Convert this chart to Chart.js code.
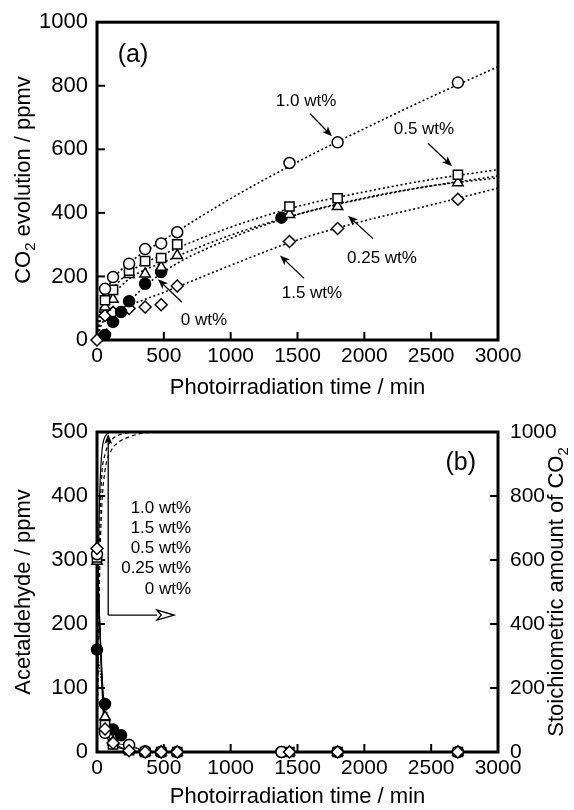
<!DOCTYPE html>
<html>
<head>
<meta charset="utf-8">
<script src="https://cdn.jsdelivr.net/npm/chart.js@4.4.1/dist/chart.umd.min.js"></script>
<style>
  body { margin: 0; background: #fff; }
  #wrap { position: relative; width: 574px; height: 810px; }
  canvas { position: absolute; left: 0; }
  #chartA { top: 0; }
  #chartB { top: 400px; }
</style>
</head>
<body>
<div id="wrap">
  <canvas id="chartA" width="574" height="400" style="width:574px;height:400px"></canvas>
  <canvas id="chartB" width="574" height="410" style="width:574px;height:410px"></canvas>
</div>
<script>
var FONT = "'Liberation Sans', Arial, sans-serif";

// ---- (a) CO2 evolution / ppmv ----
var timeA10 = [60, 120, 240, 360, 480, 600, 1440, 1800, 2700];
var co2_10 = [161, 198, 240, 286, 304, 339, 557, 622, 810];
var timeA05 = [60, 120, 240, 360, 480, 600, 1440, 1800, 2700];
var co2_05 = [125, 158, 218, 248, 258, 301, 420, 446, 520];
var timeA025 = [60, 120, 240, 360, 480, 600, 1440, 1800, 2700];
var co2_025 = [104, 128, 206, 208, 229, 266, 395, 420, 495];
var timeA0 = [60, 120, 180, 240, 360, 480, 1380];
var co2_0 = [16, 57, 88, 122, 177, 214, 385];
var timeA15 = [0, 60, 120, 240, 360, 480, 600, 1440, 1800, 2700];
var co2_15 = [0, 77, 87, 99, 104, 111, 170, 310, 351, 443];

// dotted fit curves
var fitTime = [0, 30, 100, 250, 500, 1000, 1500, 2000, 2500, 3000];
var fit10 = [0, 115, 180, 245, 315, 445, 560, 665, 765, 860];
var fit05 = [0, 90, 150, 215, 270, 355, 420, 466, 505, 536];
var fit025 = [0, 75, 130, 195, 245, 330, 395, 445, 485, 516];
var fit0 = [0, 10, 50, 125, 215, 320, 395, 447, 485, 510];
var fit15 = [0, 45, 80, 110, 150, 235, 315, 375, 425, 478];

// ---- (b) Acetaldehyde / ppmv ----
var timeB10 = [0, 60, 240, 360, 480, 600, 1380, 1800, 2700];
var acet10 = [309, 30, 11, 1, 0, 0, 0, 0, 0];
var timeB15 = [0, 60, 120, 240, 360, 480, 600, 1440, 1800, 2700];
var acet15 = [318, 36, 14, 2, 0, 0, 0, 0, 0, 0];
var timeB05 = [0, 60, 120, 240, 360, 480, 600, 1440, 1800, 2700];
var acet05 = [304, 42, 12, 3, 0, 0, 0, 0, 0, 0];
var timeB025 = [0, 60, 120, 240, 360, 480, 600, 1440, 1800, 2700];
var acet025 = [298, 55, 16, 3, 0, 0, 0, 0, 0, 0];
var timeB0 = [0, 60, 120, 180, 360, 480, 1380];
var acet0 = [160, 75, 35, 26, 0, 0, 0];

// stoichiometric CO2 curves (right axis)
var stoichTime = [0, 10, 20, 35, 60, 110, 160, 250, 350, 500, 3000];
var stoichFast = [0, 560, 800, 930, 985, 1000, 1000, 1000, 1000, 1000, 1000];
var stoichMid = [0, 420, 700, 860, 930, 975, 990, 998, 1000, 1000, 1000];
var stoichSlow = [0, 300, 560, 760, 880, 945, 968, 986, 997, 1000, 1000];

function pts(xs, ys) {
  return xs.map(function (x, i) { return { x: x, y: ys[i] }; });
}

function marks(xs, ys, style, filled, axis) {
  return {
    data: pts(xs, ys),
    yAxisID: axis || 'y',
    showLine: false,
    pointStyle: style,
    pointRadius: style === 'rect' ? 6.5 : (style === 'circle' ? 5.5 : 6),
    pointBackgroundColor: filled ? '#000' : '#fff',
    pointBorderColor: '#000',
    pointBorderWidth: 1.5,
    clip: false,
    order: 0
  };
}

function curve(xs, ys, dash, width, axis) {
  return {
    data: pts(xs, ys),
    yAxisID: axis || 'y',
    showLine: true,
    pointRadius: 0,
    borderColor: '#000',
    borderWidth: width,
    borderDash: dash,
    cubicInterpolationMode: 'monotone',
    fill: false,
    order: 1
  };
}

function axis(min, max, step, size, pad, fit) {
  return {
    type: 'linear', min: min, max: max,
    grid: { display: false, drawTicks: false },
    border: { display: false },
    ticks: { stepSize: step, autoSkip: false, maxRotation: 0, padding: pad,
             color: '#000', font: { family: FONT, size: size },
             callback: function (v) { return String(v); } },
    afterFit: fit
  };
}

// text with an optional subscript part: parts = [[text, isSub], ...]
function drawParts(ctx, parts, x, y, rot, size) {
  ctx.save();
  ctx.translate(x, y);
  ctx.rotate(rot);
  ctx.textBaseline = 'middle';
  ctx.textAlign = 'left';
  var w = 0;
  parts.forEach(function (p) {
    ctx.font = (p[1] ? size * 0.68 : size) + 'px ' + FONT;
    w += ctx.measureText(p[0]).width;
  });
  var cx = -w / 2;
  parts.forEach(function (p) {
    ctx.font = (p[1] ? size * 0.68 : size) + 'px ' + FONT;
    ctx.fillText(p[0], cx, p[1] ? size * 0.3 : 0);
    cx += ctx.measureText(p[0]).width;
  });
  ctx.restore();
}

function arrow(ctx, x1, y1, x2, y2, open) {
  var ang = Math.atan2(y2 - y1, x2 - x1);
  var len = open ? 17 : 10, hw = open ? 5 : 4;
  ctx.beginPath();
  ctx.moveTo(x1, y1);
  ctx.lineTo(x2 - Math.cos(ang) * (open ? len : len * 0.6), y2 - Math.sin(ang) * (open ? len : len * 0.6));
  ctx.stroke();
  ctx.beginPath();
  ctx.moveTo(x2, y2);
  ctx.lineTo(x2 - Math.cos(ang) * len - Math.sin(ang) * hw, y2 - Math.sin(ang) * len + Math.cos(ang) * hw);
  ctx.lineTo(x2 - Math.cos(ang) * len * 0.75, y2 - Math.sin(ang) * len * 0.75);
  ctx.lineTo(x2 - Math.cos(ang) * len + Math.sin(ang) * hw, y2 - Math.sin(ang) * len - Math.cos(ang) * hw);
  ctx.closePath();
  if (open) { ctx.fillStyle = '#fff'; ctx.fill(); ctx.stroke(); }
  else { ctx.fillStyle = '#000'; ctx.fill(); }
}

var framePlugin = {
  id: 'frame',
  beforeDatasetsDraw: function (chart, args, opts) {
    var a = chart.chartArea, ctx = chart.ctx;
    ctx.save();
    ctx.strokeStyle = '#000';
    ctx.lineWidth = 2;
    opts.inward.forEach(function (t) {
      var s = chart.scales[t[0]];
      s.ticks.forEach(function (tk) {
        if (tk.value <= s.min || tk.value >= s.max) return;
        var p = s.getPixelForValue(tk.value);
        ctx.beginPath();
        if (t[1] === 'bottom') { ctx.moveTo(p, a.bottom); ctx.lineTo(p, a.bottom - 8); }
        if (t[1] === 'left') { ctx.moveTo(a.left, p); ctx.lineTo(a.left + 8, p); }
        if (t[1] === 'right') { ctx.moveTo(a.right, p); ctx.lineTo(a.right - 8, p); }
        ctx.stroke();
      });
    });
    ctx.lineWidth = 3;
    ctx.strokeRect(a.left, a.top, a.right - a.left, a.bottom - a.top);
    ctx.restore();
  },
  afterDraw: function (chart, args, opts) {
    var ctx = chart.ctx;
    var sx = chart.scales.x, sy = chart.scales.y;
    ctx.save();
    ctx.fillStyle = '#000';
    ctx.strokeStyle = '#000';
    opts.titles.forEach(function (t) {
      drawParts(ctx, t.parts, t.x, t.y, t.rot || 0, 22);
    });
    opts.notes.forEach(function (n) {
      ctx.font = (n.size || 17) + 'px ' + FONT;
      ctx.textAlign = n.align || 'center';
      ctx.textBaseline = 'middle';
      ctx.fillText(n.text, sx.getPixelForValue(n.x), sy.getPixelForValue(n.y));
    });
    ctx.lineWidth = 1.3;
    opts.arrows.forEach(function (r) {
      arrow(ctx, sx.getPixelForValue(r[0]), sy.getPixelForValue(r[1]),
            sx.getPixelForValue(r[2]), sy.getPixelForValue(r[3]), r[4]);
    });
    ctx.restore();
  }
};

var noUi = { legend: { display: false }, tooltip: { enabled: false } };

// ---------- panel (a) ----------
new Chart(document.getElementById('chartA'), {
  type: 'scatter',
  data: {
    datasets: [
      marks(timeA10, co2_10, 'circle', false),
      marks(timeA05, co2_05, 'rect', false),
      marks(timeA025, co2_025, 'triangle', false),
      marks(timeA0, co2_0, 'circle', true),
      marks(timeA15, co2_15, 'rectRot', false),
      curve(fitTime, fit10, [2, 2.5], 1.6),
      curve(fitTime, fit05, [2, 2.5], 1.6),
      curve(fitTime, fit025, [2, 2.5], 1.6),
      curve(fitTime, fit0, [2, 2.5], 1.6),
      curve(fitTime, fit15, [2, 2.5], 1.6)
    ]
  },
  options: {
    responsive: false,
    animation: false,
    layout: { padding: { top: 20, right: 76, left: 0, bottom: 0 } },
    plugins: Object.assign({
      frame: {
        inward: [['x', 'bottom'], ['y', 'left']],
        titles: [
          { parts: [['Photoirradiation time / min', 0]], x: 297.5, y: 388 },
          { parts: [['CO', 0], ['2', 1], [' evolution / ppmv', 0]], x: 24, y: 180, rot: -Math.PI / 2 }
        ],
        notes: [
          { text: '(a)', x: 269, y: 897, size: 25 },
          { text: '1.0 wt%', x: 1564, y: 750 },
          { text: '0.5 wt%', x: 2446, y: 662 },
          { text: '0.25 wt%', x: 2132, y: 256 },
          { text: '1.5 wt%', x: 1608, y: 147 },
          { text: '0 wt%', x: 800, y: 62 }
        ],
        arrows: [
          [1594, 712, 1758, 641], [2476, 619, 2656, 547], [2065, 319, 1878, 391],
          [1549, 194, 1369, 266], [636, 119, 456, 191]
        ]
      }
    }, noUi),
    scales: {
      x: axis(0, 3000, 500, 21, 4, function (s) { s.height = 60; }),
      y: axis(0, 1000, 200, 22, 9, function (s) { s.width = 97; })
    }
  },
  plugins: [framePlugin]
});

// ---------- panel (b) ----------
new Chart(document.getElementById('chartB'), {
  type: 'scatter',
  data: {
    datasets: [
      marks(timeB15, acet15, 'rectRot', false),
      marks(timeB10, acet10, 'circle', false),
      marks(timeB05, acet05, 'rect', false),
      marks(timeB025, acet025, 'triangle', false),
      marks(timeB0, acet0, 'circle', true),
      curve(timeB10, acet10, [], 1, 'y'),
      curve(timeB15, acet15, [], 1, 'y'),
      curve(timeB05, acet05, [], 1, 'y'),
      curve(timeB025, acet025, [], 1, 'y'),
      curve(timeB0, acet0, [1.5, 1.5], 1.2, 'y'),
      curve(stoichTime, stoichFast, [], 1.2, 'y2'),
      curve(stoichTime, stoichMid, [4, 3], 1.2, 'y2'),
      curve(stoichTime, stoichSlow, [4, 3], 1.2, 'y2')
    ]
  },
  options: {
    responsive: false,
    animation: false,
    layout: { padding: { top: 32, right: 0, left: 0, bottom: 0 } },
    plugins: Object.assign({
      frame: {
        inward: [['x', 'bottom'], ['y', 'left'], ['y2', 'right']],
        titles: [
          { parts: [['Photoirradiation time / min', 0]], x: 297.5, y: 397 },
          { parts: [['Acetaldehyde / ppmv', 0]], x: 24, y: 192, rot: -Math.PI / 2 },
          { parts: [['Stoichiometric amount of CO', 0], ['2', 1]], x: 557, y: 192, rot: -Math.PI / 2 }
        ],
        notes: [
          { text: '(b)', x: 2721, y: 451, size: 25 },
          { text: '1.0 wt%', x: 704, y: 380, align: 'right' },
          { text: '1.5 wt%', x: 704, y: 349, align: 'right' },
          { text: '0.5 wt%', x: 704, y: 318, align: 'right' },
          { text: '0.25 wt%', x: 704, y: 287, align: 'right' },
          { text: '0 wt%', x: 704, y: 254, align: 'right' }
        ],
        arrows: [
          [84, 214, 84, 497, false], [84, 214, 576, 214, true]
        ]
      }
    }, noUi),
    scales: {
      x: axis(0, 3000, 500, 21, 4, function (s) { s.height = 58; }),
      y: axis(0, 500, 100, 22, 9, function (s) { s.width = 97; }),
      y2: Object.assign(axis(0, 1000, 200, 21, 12, function (s) { s.width = 76; }), { position: 'right' })
    }
  },
  plugins: [framePlugin]
});
</script>
</body>
</html>
